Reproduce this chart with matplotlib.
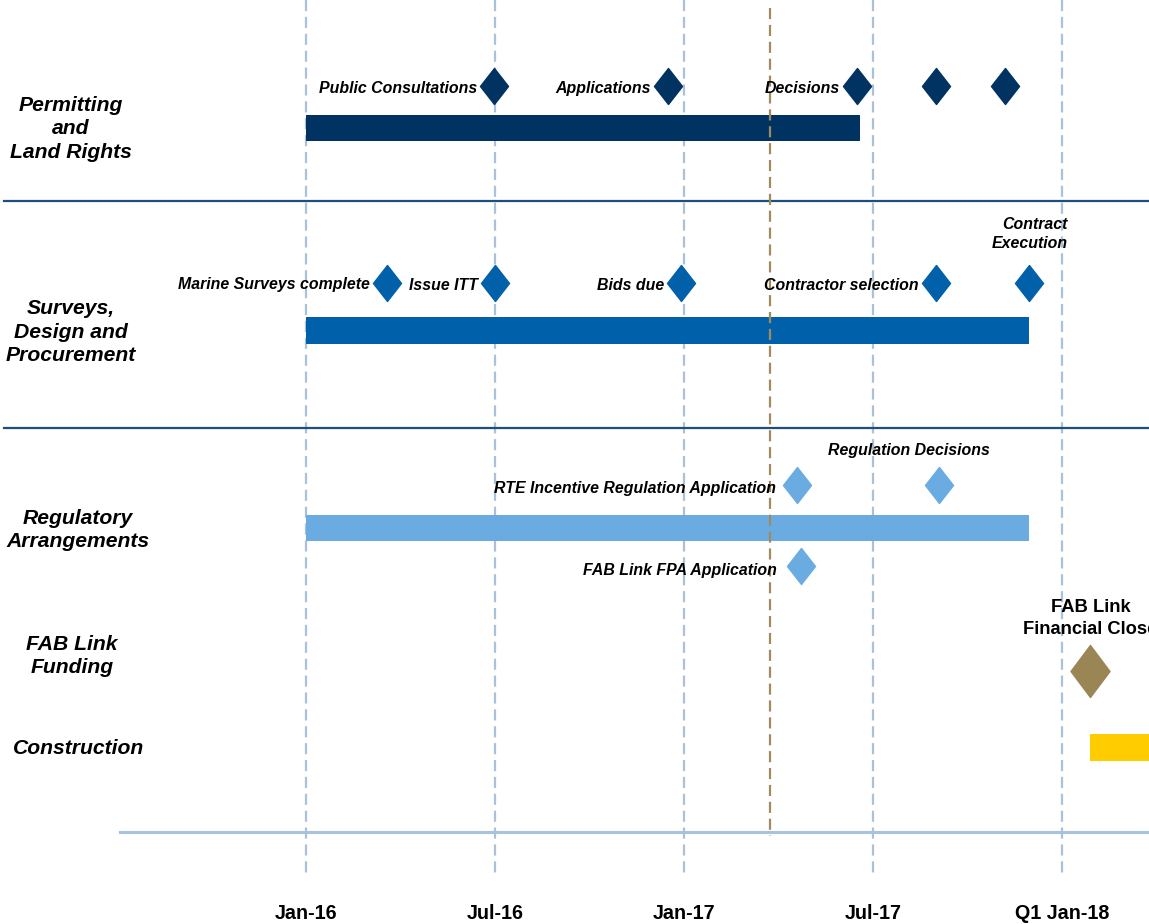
import matplotlib
matplotlib.use("Agg")
import matplotlib.pyplot as plt
from matplotlib.path import Path

# ---------------- data (months since Jan 2016) ----------------
tick_months = [0, 6, 12, 18, 24]
tick_labels = ["Jan-16", "Jul-16", "Jan-17", "Jul-17", "Q1 Jan-18"]
today_month = 14.73

categories = ["Permitting\nand\nLand Rights", "Surveys,\nDesign and\nProcurement",
              "Regulatory\nArrangements", "FAB Link\nFunding", "Construction"]

bar_names = ["Permitting", "Surveys", "Regulatory", "Construction"]
bar_start = [0.0, 0.0, 0.0, 24.9]
bar_end = [17.6, 22.95, 22.95, 28.0]

perm_ms_month = [5.97, 11.5, 17.5, 20.0, 22.2]
perm_ms_label = ["Public Consultations", "Applications", "Decisions", "", ""]

surv_ms_month = [2.57, 6.0, 11.9, 20.0, 22.95]
surv_ms_label = ["Marine Surveys complete", "Issue ITT", "Bids due", "Contractor selection", ""]
contract_exec_label = "Contract\nExecution"

reg_ms_month = [15.6, 20.1, 15.7]
reg_ms_label = ["RTE Incentive Regulation Application", "", "FAB Link FPA Application"]
reg_decisions_label = "Regulation Decisions"

fund_ms_month = [24.9]
fund_ms_label = "FAB Link\nFinancial Close"

# ---------------- layout / style ----------------
W, H = 1149, 924
PX_PER_MONTH = 31.5
X0 = 306
FONT = "Liberation Sans"

c_perm = "#003362"
c_surv = "#0061aa"
c_reg = "#6aace2"
c_fund = "#9a8554"
c_con = "#ffcc00"
c_grid = "#a9c2d9"
c_today = "#a08b5c"
c_sep = "#1f4e7d"
c_axis = "#a8c4dd"

fig = plt.figure(figsize=(W / 100, H / 100), dpi=100)
ax = fig.add_axes([0, 0, 1, 1])
ax.set_xlim(-X0 / PX_PER_MONTH, (W - X0) / PX_PER_MONTH)
ax.set_ylim(H, 0)
ax.axis("off")

# diamond marker (tall)
def diamond(ratio):
    return Path([(0, 1), (ratio, 0), (0, -1), (-ratio, 0), (0, 1)],
                [Path.MOVETO, Path.LINETO, Path.LINETO, Path.LINETO, Path.CLOSEPOLY])

dm = diamond(0.78)
ms_small = 36 * 0.72  # points
ms_big = 52 * 0.72

# vertical dashed grid lines
for m in tick_months:
    ax.plot([m, m], [0, 876], color=c_grid, lw=1.6, dashes=(5, 2.6), zorder=1)
# today line
ax.plot([today_month, today_month], [8, 836], color=c_today, lw=1.6, dashes=(5, 2.6), zorder=4)

# separators
ax.plot([-302 / PX_PER_MONTH, (W - X0) / PX_PER_MONTH], [201, 201], color=c_sep, lw=1.6, zorder=2)
ax.plot([-302 / PX_PER_MONTH, (W - X0) / PX_PER_MONTH], [428, 428], color=c_sep, lw=1.6, zorder=2)
# axis line
ax.plot([(120 - X0) / PX_PER_MONTH, (W - X0) / PX_PER_MONTH], [832, 832], color=c_axis, lw=2.2, zorder=2)

# tick labels
for m, lab in zip(tick_months, tick_labels):
    ax.text(m, 919, lab, ha="center", va="baseline", fontsize=14.2, fontweight="bold",
            family=FONT, color="black")

# category labels
cat_x_px = [71, 71, 78, 72, 79]
cat_y_px = [129, 332, 530, 656, 748]
for lab, xp, yp in zip(categories, cat_x_px, cat_y_px):
    ax.text((xp - X0) / PX_PER_MONTH, yp, lab, ha="center", va="center", fontsize=15.2,
            fontweight="bold", fontstyle="italic", family=FONT, linespacing=1.28)

# bars
bar_y = [128, 330.5, 528, 747.5]
bar_h = 26.5
bar_colors = [c_perm, c_surv, c_reg, c_con]
for s, e, y, c in zip(bar_start, bar_end, bar_y, bar_colors):
    ax.barh(y, e - s, left=s, height=bar_h, color=c, zorder=3)

LFS = 11.4
lab_kw = dict(ha="right", va="baseline", fontsize=LFS, fontweight="bold",
              fontstyle="italic", family=FONT, color="black", zorder=5)

def milestones(months, labels, ys, color, offsets, base_off, size=ms_small):
    for i, (m, lab, y) in enumerate(zip(months, labels, ys)):
        ax.plot([m], [y], marker=dm, markersize=size, color=color, linestyle="none", zorder=5)
        if lab:
            ax.annotate(lab, (m, y + base_off[i]), xytext=(-offsets[i] * 0.72, 0),
                        textcoords="offset points", **lab_kw)

# Permitting
milestones(perm_ms_month, perm_ms_label, [85.5] * 5, c_perm, [17] * 5, [7.5] * 5)
# Surveys
milestones(surv_ms_month, surv_ms_label, [283] * 5, c_surv, [17] * 5, [6.5] * 5)
ax.text(surv_ms_month[4] + 39 / PX_PER_MONTH, 248, contract_exec_label, ha="right", va="baseline",
        fontsize=LFS, fontweight="bold", fontstyle="italic", family=FONT, linespacing=1.3)
# Regulatory
milestones(reg_ms_month, reg_ms_label, [485, 485, 566], c_reg, [21, 0, 24], [7.7, 0, 9])
ax.text(reg_ms_month[1] - 30 / PX_PER_MONTH, 455, reg_decisions_label, ha="center", va="baseline",
        fontsize=LFS, fontweight="bold", fontstyle="italic", family=FONT)
# Funding
ax.plot(fund_ms_month, [671], marker=diamond(0.75), markersize=ms_big, color=c_fund,
        linestyle="none", zorder=5)
ax.text(fund_ms_month[0], 634, fund_ms_label, ha="center", va="baseline", fontsize=13.2,
        fontweight="bold", family=FONT, linespacing=1.4)

fig.savefig("out.png", dpi=100)
